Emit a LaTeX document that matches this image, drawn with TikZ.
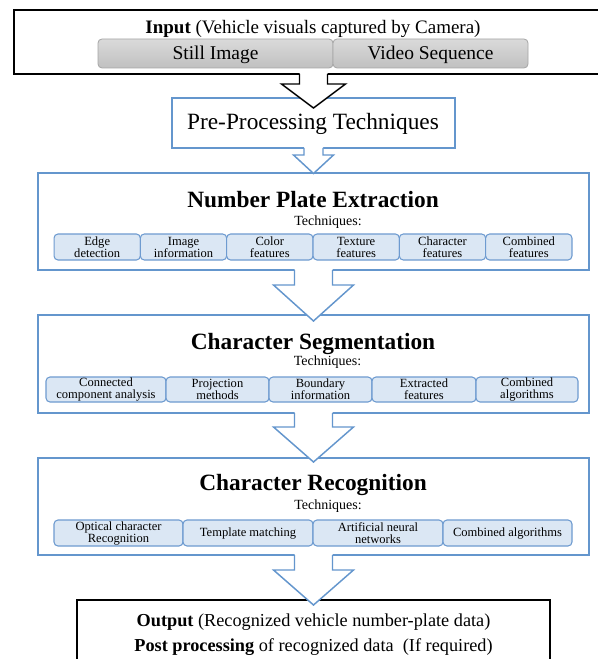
\documentclass[tikz,border=0pt]{standalone}
\usepackage{fontspec}
\setmainfont{Liberation Serif}
\usetikzlibrary{calc}
\definecolor{boxblue}{RGB}{100,150,205}
\definecolor{subfill}{RGB}{219,231,244}
\definecolor{subline}{RGB}{110,155,208}
\definecolor{btnline}{RGB}{165,165,165}
\definecolor{btntop}{RGB}{218,218,218}
\definecolor{btnbot}{RGB}{192,192,192}
% block arrow: #1 style, #2 from node, #3 to node, #4 shaft half width,
% #5 shaft length, #6 head half width, #7 tip offset into target
\newcommand\blkarrow[7]{%
  \coordinate (aS) at (#2.south -| #3.north);
  \coordinate (aT) at ($(#3.north)+(0,#7)$);
  \path[fill=white] ($(aS)+(-#4,-1.5)$) -- ($(aS)+(-#4,#5)$) -- ($(aS)+(-#6,#5)$) -- (aT)
     -- ($(aS)+(#6,#5)$) -- ($(aS)+(#4,#5)$) -- ($(aS)+(#4,-1.5)$) -- cycle;
  \draw[#1] ($(aS)+(-#4,0)$) -- ($(aS)+(-#4,#5)$) -- ($(aS)+(-#6,#5)$) -- (aT)
     -- ($(aS)+(#6,#5)$) -- ($(aS)+(#4,#5)$) -- ($(aS)+(#4,0)$);
}
\begin{document}
\begin{tikzpicture}[x=0.75pt,y=-0.75pt,
  wh/.style 2 args={minimum width={#1*0.75pt},minimum height={#2*0.75pt}},
  bluebox/.style={draw=boxblue,line width=1.1pt,fill=white,inner sep=0pt,outer sep=0pt},
  blackbox/.style={draw=black,line width=1.3pt,fill=white,inner sep=0pt,outer sep=0pt},
  subbox/.style={draw=subline,fill=subfill,line width=0.8pt,rounded corners=3pt,inner sep=0pt,outer sep=0pt,align=center,font=\fontsize{9.4pt}{9pt}\selectfont},
  btn/.style={draw=btnline,top color=btntop,bottom color=btnbot,line width=0.6pt,rounded corners=3pt,inner sep=0pt,outer sep=0pt,font=\fontsize{14.6pt}{16pt}\selectfont,text height=10.5pt,text depth=0.75pt},
  boxtitle/.style={anchor=base,inner sep=0pt,font=\fontsize{17.5pt}{20pt}\selectfont\bfseries},
  techn/.style={anchor=base,inner sep=0pt,font=\fontsize{10.5pt}{12pt}\selectfont},
  plaintext/.style={anchor=base,inner sep=0pt},
  blarrow/.style={draw=boxblue,line width=1.1pt,line join=miter},
  bkarrow/.style={draw=black,line width=1.1pt,line join=miter},
]
\path[use as bounding box] (0,0) rectangle (598,659);
\clip (0,0) rectangle (598,659);
\fill[white] (0,0) rectangle (598,659);

% main boxes
\node[blackbox,wh={598}{64}] (inbox) at (313,42) {};
\node[bluebox,wh={283}{50}] (pre) at (313.5,123) {};
\node[bluebox,wh={551}{97}] (npe) at (313.5,221.5) {};
\node[bluebox,wh={551}{98}] (cs) at (313.5,364) {};
\node[bluebox,wh={551}{97}] (cr) at (313.5,506.5) {};
\node[blackbox,wh={473}{80}] (out) at (313.5,640) {};

% input buttons
\node[btn,wh={235}{29}] (still) at (215.5,53.5) {Still Image};
\node[btn,wh={195}{29}] (video) at (430.5,53.5) {Video Sequence};

% NPE techniques
\node[subbox,wh={86.33}{26}] (n1) at (97.2,247) {Edge\\detection};
\node[subbox,wh={86.33}{26}] (n2) at (183.5,247) {Image\\information};
\node[subbox,wh={86.33}{26}] (n3) at (269.8,247) {Color\\features};
\node[subbox,wh={86.33}{26}] (n4) at (356.2,247) {Texture\\features};
\node[subbox,wh={86.33}{26}] (n5) at (442.5,247) {Character\\features};
\node[subbox,wh={86.33}{26}] (n6) at (528.8,247) {Combined\\features};

% CS techniques
\node[subbox,wh={120}{25}] (s1) at (106,389.5) {Connected\\component analysis};
\node[subbox,wh={103}{25}] (s2) at (217.5,389.5) {Projection\\methods};
\node[subbox,wh={103}{25}] (s3) at (320.5,389.5) {Boundary\\information};
\node[subbox,wh={104}{25}] (s4) at (424,389.5) {Extracted\\features};
\node[subbox,wh={102}{25}] (s5) at (527,389.5) {Combined\\algorithms};

% CR techniques
\node[subbox,wh={129}{26}] (r1) at (118.5,533) {Optical character\\Recognition};
\node[subbox,wh={130}{26}] (r2) at (248,533) {Template matching};
\node[subbox,wh={130}{26}] (r3) at (378,533) {Artificial neural\\networks};
\node[subbox,wh={129}{26}] (r4) at (507.5,533) {Combined algorithms};

% block arrows
\blkarrow{bkarrow}{inbox}{pre}{14}{10}{32}{10}
\blkarrow{blarrow}{pre}{npe}{9.5}{7}{20}{0.5}
\blkarrow{blarrow}{npe}{cs}{19}{15}{40}{6}
\blkarrow{blarrow}{cs}{cr}{19}{14}{40}{4}
\blkarrow{blarrow}{cr}{out}{19}{15}{40}{5}

% texts
\node[plaintext,font=\fontsize{14.25pt}{16pt}\selectfont] (intext) at (313,34)
  {\textbf{Input} (Vehicle visuals captured by Camera)};
\node[plaintext,font=\fontsize{17.5pt}{20pt}\selectfont] (pretext) at (313,130) {Pre-Processing Techniques};
\node[boxtitle] (npetitle) at (313,207.5) {Number Plate Extraction};
\node[techn] (npetech) at (328,225) {Techniques:};
\node[boxtitle] (cstitle) at (313,349.5) {Character Segmentation};
\node[techn] (cstech) at (327.5,365.5) {Techniques:};
\node[boxtitle] (crtitle) at (313,490.5) {Character Recognition};
\node[techn] (crtech) at (328,509.5) {Techniques:};
\node[plaintext,font=\fontsize{13.7pt}{16pt}\selectfont] (out1) at (313.5,626)
  {\textbf{Output} (Recognized vehicle number-plate data)};
\node[plaintext,font=\fontsize{13.7pt}{16pt}\selectfont] (out2) at (313.5,651)
  {\textbf{Post processing} of recognized data\ \ (If required)};
\end{tikzpicture}
\end{document}
